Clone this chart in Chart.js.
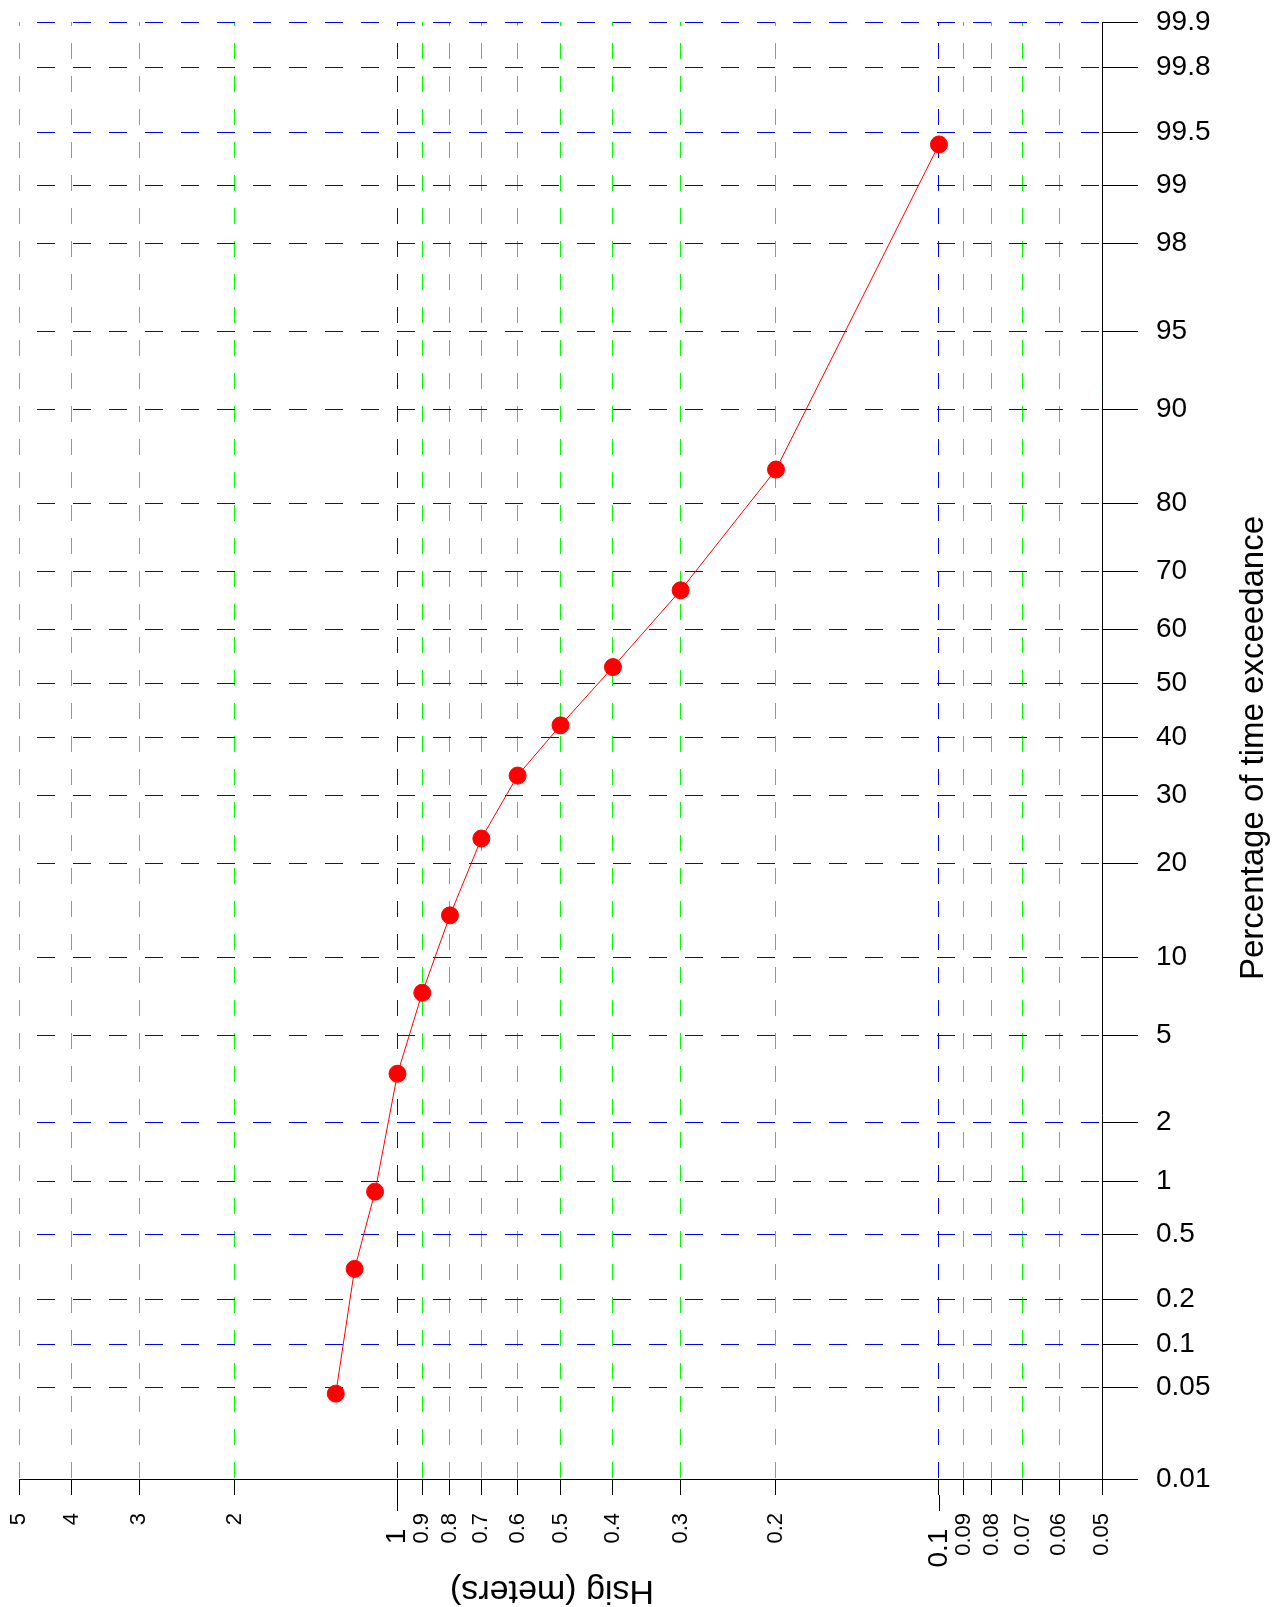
<!DOCTYPE html>
<html>
<head>
<meta charset="utf-8">
<script src="https://cdn.jsdelivr.net/npm/chart.js@4/dist/chart.umd.min.js"></script>
<style>
  html, body { margin: 0; padding: 0; background: #ffffff; }
  #wrap { width: 1283px; height: 1607px; }
</style>
</head>
<body>
<div id="wrap"><canvas id="c" width="1283" height="1607"></canvas></div>
<script>
// ---- data ----
const hsigValues = [0.1, 0.2, 0.3, 0.4, 0.5, 0.6, 0.7, 0.8, 0.9, 1.0, 1.1, 1.2, 1.3];
const exceedancePct = [99.41, 84.1, 66.8, 53.0, 42.2, 33.3, 23.4, 13.9, 7.4, 3.4, 0.875, 0.31, 0.045];

const xTicks = [5, 4, 3, 2, 1, 0.9, 0.8, 0.7, 0.6, 0.5, 0.4, 0.3, 0.2, 0.1, 0.09, 0.08, 0.07, 0.06, 0.05];
const xTickLabels = ['5', '4', '3', '2', '1', '0.9', '0.8', '0.7', '0.6', '0.5', '0.4', '0.3', '0.2', '0.1', '0.09', '0.08', '0.07', '0.06', '0.05'];
const xMajorTicks = [1, 0.1];

const yTicks = [0.01, 0.05, 0.1, 0.2, 0.5, 1, 2, 5, 10, 20, 30, 40, 50, 60, 70, 80, 90, 95, 98, 99, 99.5, 99.8, 99.9];
const yTickLabels = ['0.01', '0.05', '0.1', '0.2', '0.5', '1', '2', '5', '10', '20', '30', '40', '50', '60', '70', '80', '90', '95', '98', '99', '99.5', '99.8', '99.9'];

const xTitle = 'Hsig (meters)';
const yTitle = 'Percentage of time exceedance';

// ---- probability (normal) scale ----
function probit(p) {
  const a = [-3.969683028665376e+01, 2.209460984245205e+02, -2.759285104469687e+02, 1.383577518672690e+02, -3.066479806614716e+01, 2.506628277459239e+00];
  const b = [-5.447609879822406e+01, 1.615858368580409e+02, -1.556989798598866e+02, 6.680131188771972e+01, -1.328068155288572e+01];
  const c = [-7.784894002430293e-03, -3.223964580411365e-01, -2.400758277161838e+00, -2.549732539343734e+00, 4.374664141464968e+00, 2.938163982698783e+00];
  const d = [7.784695709041462e-03, 3.224671290700398e-01, 2.445134137142996e+00, 3.754408661907416e+00];
  const pl = 0.02425, ph = 1 - pl;
  let q, r;
  if (p < pl) {
    q = Math.sqrt(-2 * Math.log(p));
    return (((((c[0]*q+c[1])*q+c[2])*q+c[3])*q+c[4])*q+c[5]) / ((((d[0]*q+d[1])*q+d[2])*q+d[3])*q+1);
  }
  if (p <= ph) {
    q = p - 0.5; r = q * q;
    return (((((a[0]*r+a[1])*r+a[2])*r+a[3])*r+a[4])*r+a[5])*q / (((((b[0]*r+b[1])*r+b[2])*r+b[3])*r+b[4])*r+1);
  }
  q = Math.sqrt(-2 * Math.log(1 - p));
  return -(((((c[0]*q+c[1])*q+c[2])*q+c[3])*q+c[4])*q+c[5]) / ((((d[0]*q+d[1])*q+d[2])*q+d[3])*q+1);
}
function normCdf(z) {
  const t = 1 / (1 + 0.2316419 * Math.abs(z));
  const dd = 0.3989423 * Math.exp(-z * z / 2);
  let pr = dd * t * (0.3193815 + t * (-0.3565638 + t * (1.781478 + t * (-1.821256 + t * 1.330274))));
  return z > 0 ? 1 - pr : pr;
}

class ProbabilityScale extends Chart.Scale {
  determineDataLimits() {
    this.min = this.options.min;
    this.max = this.options.max;
  }
  buildTicks() {
    return yTicks.map(v => ({ value: v }));
  }
  configure() {
    super.configure();
    this._zStart = probit(this.min / 100);
    this._zRange = probit(this.max / 100) - this._zStart;
  }
  getLabelForValue(v) { return String(v); }
  getPixelForValue(v) {
    return this.getPixelForDecimal((probit(v / 100) - this._zStart) / this._zRange);
  }
  getValueForPixel(px) {
    return 100 * normCdf(this._zStart + this.getDecimalForPixel(px) * this._zRange);
  }
}
ProbabilityScale.id = 'probability';
ProbabilityScale.defaults = {};
Chart.register(ProbabilityScale);

const FONT = "'Liberation Sans', Arial, sans-serif";
const isXMajor = v => xMajorTicks.some(m => Math.abs(m - v) < 1e-9);

const extras = {
  id: 'extras',
  afterDraw(chart) {
    const ctx = chart.ctx;
    const xs = chart.scales.x;
    const y0 = chart.chartArea.bottom;
    ctx.save();
    // longer tick marks for the major Hsig ticks
    ctx.strokeStyle = '#000000';
    ctx.lineWidth = 1;
    xMajorTicks.forEach(v => {
      const px = Math.round(xs.getPixelForValue(v)) + 0.5;
      ctx.beginPath();
      ctx.moveTo(px, y0 + 16);
      ctx.lineTo(px, y0 + 32);
      ctx.stroke();
    });
    ctx.fillStyle = '#000000';
    // upside-down x title
    ctx.save();
    ctx.translate(552, 1590);
    ctx.rotate(Math.PI);
    ctx.font = '34px ' + FONT;
    ctx.textAlign = 'center';
    ctx.textBaseline = 'middle';
    ctx.fillText(xTitle, 0, 0);
    ctx.restore();
    // vertical y title (reads bottom to top)
    ctx.save();
    ctx.translate(1263, 748);
    ctx.rotate(-Math.PI / 2);
    ctx.font = '33px ' + FONT;
    ctx.textAlign = 'center';
    ctx.textBaseline = 'alphabetic';
    ctx.fillText(yTitle, 0, 0);
    ctx.restore();
    ctx.restore();
  }
};

new Chart(document.getElementById('c'), {
  type: 'line',
  data: {
    datasets: [{
      data: hsigValues.map((h, i) => ({ x: h, y: exceedancePct[i] })),
      borderColor: '#ff0000',
      borderWidth: 1,
      pointRadius: 8.5,
      pointBackgroundColor: '#ff0000',
      pointBorderColor: '#ff0000',
      pointBorderWidth: 1,
      fill: false,
      tension: 0
    }]
  },
  options: {
    responsive: false,
    animation: false,
    devicePixelRatio: 1,
    layout: { padding: { left: 19, top: 22, right: 0, bottom: 0 } },
    plugins: { legend: { display: false }, tooltip: { enabled: false } },
    scales: {
      x: {
        type: 'logarithmic',
        reverse: true,
        min: 0.05,
        max: 5,
        bounds: 'data',
        afterBuildTicks: s => { s.ticks = xTicks.map(v => ({ value: v })); },
        afterFit: s => { s.height = 128; s.paddingLeft = 0; s.paddingRight = 0; },
        ticks: {
          autoSkip: false,
          minRotation: 90,
          maxRotation: 90,
          padding: 18,
          color: '#000000',
          font: c => ({ family: FONT, size: (c.tick && isXMajor(c.tick.value)) ? 28 : 22 }),
          callback: (v, i) => xTickLabels[i] + (isXMajor(v) ? '  ' : '')
        },
        grid: {
          color: c => (c.tick && isXMajor(c.tick.value)) ? '#0000ff' : '#00ff00',
          lineWidth: 1,
          tickLength: 16,
          tickColor: '#000000',
          tickBorderDash: []
        },
        border: { display: true, color: '#000000', width: 1, dash: [16, 17], dashOffset: 12, z: 1 }
      },
      y: {
        type: 'probability',
        position: 'right',
        min: 0.01,
        max: 99.9,
        afterFit: s => { s.width = 181; s.paddingTop = 0; s.paddingBottom = 0; },
        ticks: {
          autoSkip: false,
          padding: 18,
          color: '#000000',
          font: { family: FONT, size: 28 },
          callback: (v, i) => yTickLabels[i]
        },
        grid: {
          color: '#0000ff',
          lineWidth: 1,
          tickLength: 36,
          tickColor: '#000000',
          tickBorderDash: []
        },
        border: { display: true, color: '#000000', width: 1, dash: [18, 18], dashOffset: 18, z: 1 }
      }
    }
  },
  plugins: [extras]
});
</script>
</body>
</html>
